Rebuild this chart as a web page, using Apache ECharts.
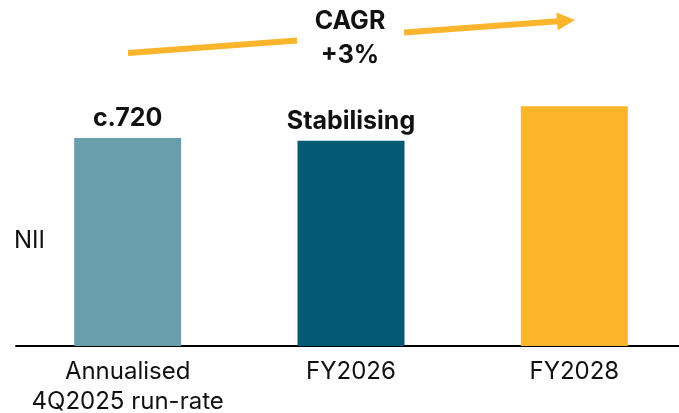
<!DOCTYPE html>
<html><head><meta charset="utf-8">
<script src="https://cdn.jsdelivr.net/npm/echarts@6/dist/echarts.min.js"></script>
<style>html,body{margin:0;padding:0;background:#fff}#c{width:679px;height:413px}</style>
</head><body><div id="c"></div>
<script>
const categories = ['Annualised\n4Q2025 run-rate', 'FY2026', 'FY2028'];
const values = [720, 710, 830];
const barLabels = ['c.720', 'Stabilising', ''];
const barColors = ['#699EAD', '#035B73', '#FDB52B'];
const cagrText = ['CAGR', '+3%'];
const yName = 'NII';

const FONT = 'Inter, "Noto Sans", sans-serif';
const chart = echarts.init(document.getElementById('c'), null, {renderer: 'canvas'});
const ARROW = '#FBB52D';
chart.setOption({
  animation: false,
  grid: {left: 16, width: 670, top: 57, bottom: 67, containLabel: false, outerBoundsMode: 'none'},
  xAxis: {
    type: 'category', data: categories,
    axisLine: {lineStyle: {color: '#000', width: 2}},
    axisTick: {show: false},
    axisLabel: {interval: 0, color: '#111', fontFamily: FONT, fontSize: 24, lineHeight: 30, margin: 11}
  },
  yAxis: {type: 'value', min: 0, max: 1000, show: false},
  series: [{
    type: 'bar', barWidth: 107,
    data: values.map((v, i) => ({value: v, itemStyle: {color: barColors[i]},
      label: {show: !!barLabels[i], formatter: barLabels[i]}})),
    label: {position: 'top', distance: 7, color: '#111', fontFamily: FONT, fontWeight: 'bold', fontSize: 25}
  }],
  graphic: [
    {type: 'text', left: 14, top: 229, style: {text: yName, fill: '#111', font: '24px ' + FONT}},
    {type: 'line', shape: {x1: 128, y1: 53, x2: 297, y2: 40.5}, style: {stroke: ARROW, lineWidth: 6}},
    {type: 'line', shape: {x1: 404, y1: 32.6, x2: 558, y2: 21.3}, style: {stroke: ARROW, lineWidth: 6}},
    {type: 'polygon', shape: {points: [[575, 20], [557.7, 30.3], [556.4, 12.4]]}, style: {fill: ARROW}},
    {type: 'text', x: 350, y: 21, style: {text: cagrText[0], fill: '#111', font: 'bold 25px ' + FONT, align: 'center', verticalAlign: 'middle'}},
    {type: 'text', x: 350, y: 55, style: {text: cagrText[1], fill: '#111', font: 'bold 25px ' + FONT, align: 'center', verticalAlign: 'middle'}}
  ]
});
</script></body></html>
